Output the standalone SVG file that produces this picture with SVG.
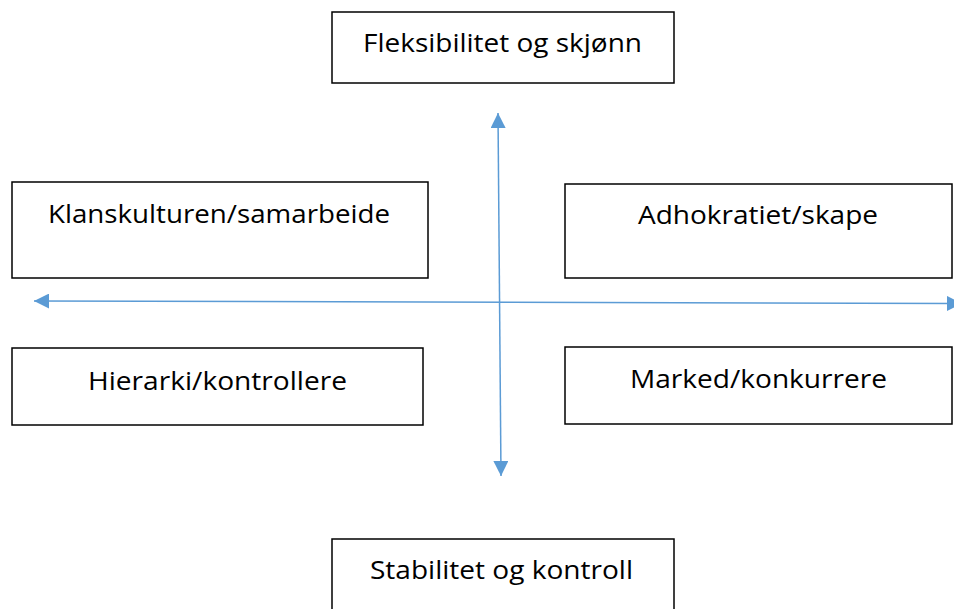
<svg xmlns="http://www.w3.org/2000/svg" width="954" height="609" viewBox="0 0 954 609">
  <style>
    .box { fill: #ffffff; stroke: #000000; stroke-width: 1.5; }
    .lbl { font-family: "Open Sans", "Liberation Sans", sans-serif; font-size: 26px; fill: #000000; }
    .axis { stroke: #5B9BD5; stroke-width: 1.5; fill: none; }
  </style>
  <defs>
    <marker id="head" markerUnits="userSpaceOnUse" markerWidth="15" markerHeight="15" viewBox="0 0 15 15" refX="15" refY="7.5" orient="auto-start-reverse">
      <path d="M0,0 L15,7.5 L0,15 Z" fill="#5B9BD5"/>
    </marker>
  </defs>
  <rect width="954" height="609" fill="#ffffff"/>

  <g id="connectors">
    <line class="axis" x1="498" y1="113" x2="501" y2="476" marker-start="url(#head)" marker-end="url(#head)"/>
    <line class="axis" x1="34" y1="301" x2="962" y2="303.5" marker-start="url(#head)" marker-end="url(#head)"/>
  </g>

  <g id="fleksibilitet">
    <rect class="box" x="332" y="12" width="342" height="71"/>
    <text class="lbl" x="363" y="52" textLength="279" lengthAdjust="spacingAndGlyphs">Fleksibilitet og skjønn</text>
  </g>
  <g id="klan">
    <rect class="box" x="12" y="182" width="416" height="96"/>
    <text class="lbl" x="48" y="223" textLength="342" lengthAdjust="spacingAndGlyphs">Klanskulturen/samarbeide</text>
  </g>
  <g id="adhokrati">
    <rect class="box" x="565" y="184" width="387" height="94"/>
    <text class="lbl" x="638" y="224" textLength="240" lengthAdjust="spacingAndGlyphs">Adhokratiet/skape</text>
  </g>
  <g id="hierarki">
    <rect class="box" x="12" y="348" width="411" height="77"/>
    <text class="lbl" x="88" y="390" textLength="259" lengthAdjust="spacingAndGlyphs">Hierarki/kontrollere</text>
  </g>
  <g id="marked">
    <rect class="box" x="565" y="347" width="387" height="77"/>
    <text class="lbl" x="630" y="388" textLength="257" lengthAdjust="spacingAndGlyphs">Marked/konkurrere</text>
  </g>
  <g id="stabilitet">
    <rect class="box" x="332" y="539" width="342" height="80"/>
    <text class="lbl" x="370" y="579" textLength="263" lengthAdjust="spacingAndGlyphs">Stabilitet og kontroll</text>
  </g>
</svg>
